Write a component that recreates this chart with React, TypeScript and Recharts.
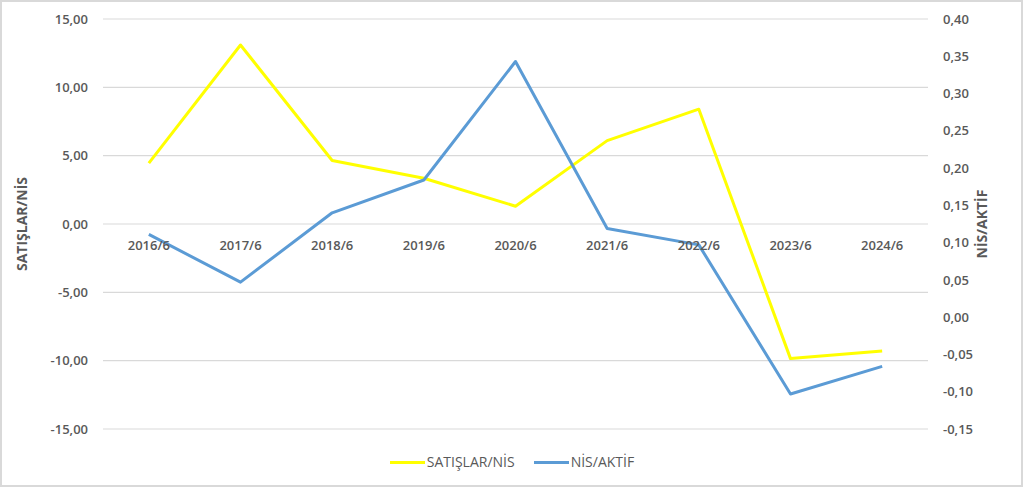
import { CartesianGrid, Line, LineChart, XAxis, YAxis } from "recharts";

// Dönemler ve oranlar
const periods = ["2016/6", "2017/6", "2018/6", "2019/6", "2020/6", "2021/6", "2022/6", "2023/6", "2024/6"];
const satislarNis = [4.45, 13.1, 4.65, 3.35, 1.3, 6.1, 8.4, -9.85, -9.3];
const nisAktif = [0.111, 0.047, 0.14, 0.184, 0.343, 0.119, 0.097, -0.103, -0.066];

const leftTicks = [-15, -10, -5, 0, 5, 10, 15];
const rightTicks = [-0.15, -0.1, -0.05, 0, 0.05, 0.1, 0.15, 0.2, 0.25, 0.3, 0.35, 0.4];

const W = 1024;
const H = 488;
const TOP = 19;
const X_AXIS_H = 59;
const PLOT_H = H - TOP - X_AXIS_H;
const LEFT_W = 103;
const RIGHT_W = 96;
// yarım kategori boşluğu: noktalar bantların ortasında
const HALF_BAND = (W - LEFT_W - RIGHT_W) / periods.length / 2;

const FONT = "'Open Sans', sans-serif";
const GREY = "#595959";
const YELLOW = "#FFFF00";
const BLUE = "#5B9BD5";

const data = periods.map((p, i) => ({ period: p, satislar: satislarNis[i], aktif: nisAktif[i] }));

const fmt = (v: number) => v.toFixed(2).replace(".", ",");

// Kategori etiketleri sol eksenin sıfır çizgisinin hemen altında duruyor
function PeriodTick({ x, y, payload }: any) {
  const zeroShift = PLOT_H / 2 - 26;
  return (
    <text
      x={x}
      y={y - zeroShift}
      textAnchor="middle"
      fill={GREY}
      fontFamily={FONT}
      fontSize={13}
      fontWeight={600}
    >
      {payload.value}
    </text>
  );
}

function AxisTitle({ viewBox, text, offset }: any) {
  const cx = viewBox.x + offset;
  const cy = viewBox.y + viewBox.height / 2;
  return (
    <text
      x={cx}
      y={cy}
      transform={`rotate(-90, ${cx}, ${cy})`}
      textAnchor="middle"
      dominantBaseline="central"
      fill={GREY}
      fontFamily={FONT}
      fontSize={14}
      fontWeight={700}
    >
      {text}
    </text>
  );
}

function LegendItem({ color, label }: { color: string; label: string }) {
  return (
    <div style={{ display: "flex", alignItems: "center" }}>
      <div style={{ width: 35, height: 3, background: color, marginRight: 2 }} />
      <span>{label}</span>
    </div>
  );
}

export default function App() {
  const tickStyle = { fill: GREY, fontSize: 13, fontWeight: 600, fontFamily: FONT };
  return (
    <div style={{ position: "fixed", left: 0, top: 0, width: W, height: H, background: "#fff" }}>
      <LineChart width={W} height={H} data={data} margin={{ top: TOP, right: 0, bottom: 0, left: 0 }}>
        <CartesianGrid yAxisId="left" stroke="#d9d9d9" strokeWidth={1.2} vertical={false} />
        <XAxis
          dataKey="period"
          height={X_AXIS_H}
          padding={{ left: HALF_BAND, right: HALF_BAND }}
          axisLine={false}
          tickLine={false}
          tickSize={0}
          tickMargin={0}
          interval={0}
          tick={<PeriodTick />}
        />
        <YAxis
          yAxisId="left"
          width={LEFT_W}
          domain={[-15, 15]}
          ticks={leftTicks}
          tickFormatter={fmt}
          axisLine={false}
          tickLine={false}
          tickSize={0}
          tickMargin={15}
          tick={tickStyle}
          label={(props: any) => <AxisTitle {...props} text="SATIŞLAR/NİS" offset={21} />}
        />
        <YAxis
          yAxisId="right"
          orientation="right"
          width={RIGHT_W}
          domain={[-0.15, 0.4]}
          ticks={rightTicks}
          tickFormatter={fmt}
          axisLine={false}
          tickLine={false}
          tickSize={0}
          tickMargin={15}
          tick={{ ...tickStyle, textAnchor: "start" }}
          label={(props: any) => <AxisTitle {...props} text="NİS/AKTİF" offset={53} />}
        />
        <Line
          yAxisId="left"
          type="linear"
          dataKey="satislar"
          name="SATIŞLAR/NİS"
          stroke={YELLOW}
          strokeWidth={3}
          strokeLinejoin="round"
          dot={false}
          activeDot={false}
          isAnimationActive={false}
        />
        <Line
          yAxisId="right"
          type="linear"
          dataKey="aktif"
          name="NİS/AKTİF"
          stroke={BLUE}
          strokeWidth={3}
          strokeLinejoin="round"
          dot={false}
          activeDot={false}
          isAnimationActive={false}
        />
      </LineChart>
      <div
        style={{
          position: "absolute",
          left: 0,
          top: 452,
          width: W,
          display: "flex",
          justifyContent: "center",
          gap: 19,
          color: GREY,
          fontFamily: FONT,
          fontSize: 14,
          fontWeight: 500,
          lineHeight: "20px",
        }}
      >
        <LegendItem color={YELLOW} label="SATIŞLAR/NİS" />
        <LegendItem color={BLUE} label="NİS/AKTİF" />
      </div>
      <div
        style={{
          position: "absolute",
          left: 0,
          top: 0,
          width: W - 1,
          height: H - 1,
          boxSizing: "border-box",
          border: "2px solid #d9d9d9",
          pointerEvents: "none",
        }}
      />
    </div>
  );
}
